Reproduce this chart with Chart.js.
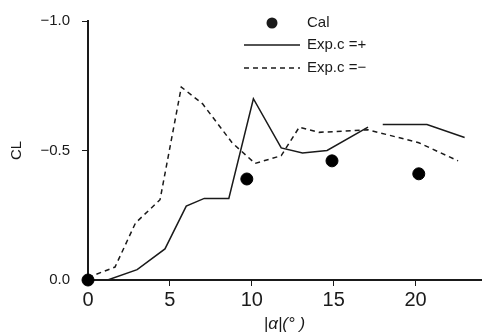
<!DOCTYPE html>
<html>
<head>
<meta charset="utf-8">
<script src="https://cdn.jsdelivr.net/npm/chart.js@4/dist/chart.umd.min.js"></script>
<style>
  html, body { margin: 0; padding: 0; background: #fff; }
  #wrap { width: 482px; height: 336px; }
</style>
</head>
<body>
<div id="wrap"><canvas id="cl-chart"></canvas></div>
<script>
// |alpha| (deg) vs CL
var calAlpha = [0, 9.7, 14.9, 20.2];
var calCL = [0, -0.39, -0.46, -0.41];

var plusAlpha = [1.2, 3.0, 4.7, 6.0, 7.1, 8.6, 10.1, 11.8, 13.1, 14.6, 17.1, 17.5, 18.0, 20.7, 23.0];
var plusCL = [0, -0.04, -0.12, -0.285, -0.315, -0.315, -0.70, -0.51, -0.49, -0.50, -0.59, null, -0.60, -0.60, -0.55];

var minusAlpha = [0, 1.65, 2.9, 4.4, 5.7, 7.0, 8.8, 10.2, 11.8, 12.9, 14.1, 17.1, 20.2, 22.6];
var minusCL = [-0.01, -0.05, -0.22, -0.31, -0.745, -0.68, -0.53, -0.45, -0.48, -0.59, -0.57, -0.58, -0.53, -0.46];

var xTicks = [0, 5, 10, 15, 20];
var yTicks = [-1.0, -0.5, 0.0];

function pts(xs, ys) {
  return xs.map(function (x, i) { return { x: x, y: ys[i] }; });
}

var ink = '#1a1a1a';
var fontFam = '"Liberation Sans", Arial, sans-serif';

// legend drawn as a small stacked box at the top, like the figure
var stackLegend = {
  id: 'stackLegend',
  afterDraw: function (chart) {
    var ctx = chart.ctx;
    var rows = [23, 45, 68];
    ctx.save();
    ctx.font = '15px ' + fontFam;
    ctx.textBaseline = 'middle';
    ctx.fillStyle = ink;
    ctx.strokeStyle = ink;
    chart.data.datasets.forEach(function (ds, i) {
      var y = rows[i];
      if (ds.showLine === false) {
        ctx.beginPath();
        ctx.arc(272, y, 5.5, 0, Math.PI * 2);
        ctx.fill();
      } else {
        ctx.lineWidth = 1.5;
        ctx.setLineDash(ds.borderDash || []);
        ctx.beginPath();
        ctx.moveTo(244, y);
        ctx.lineTo(300, y);
        ctx.stroke();
        ctx.setLineDash([]);
      }
      ctx.fillText(ds.label, 307, y);
    });
    ctx.restore();
  }
};

new Chart(document.getElementById('cl-chart'), {
  type: 'scatter',
  data: {
    datasets: [{
        label: 'Cal',
        data: pts(calAlpha, calCL),
        showLine: false,
        pointRadius: 6,
        pointBackgroundColor: '#000',
        pointBorderColor: '#000',
        clip: false
      }, {
        label: 'Exp.c =+',
        data: pts(plusAlpha, plusCL),
        showLine: true,
        spanGaps: false,
        borderColor: ink,
        borderWidth: 1.5,
        pointRadius: 0,
        fill: false,
        tension: 0
      }, {
        label: 'Exp.c =\u2212',
        data: pts(minusAlpha, minusCL),
        showLine: true,
        borderColor: ink,
        borderWidth: 1.5,
        borderDash: [5, 4],
        pointRadius: 0,
        fill: false,
        tension: 0
      }
    ]
  },
  options: {
    responsive: true,
    maintainAspectRatio: false,
    animation: false,
    layout: { autoPadding: false, padding: { top: 16, right: 1, left: 0, bottom: 0 } },
    plugins: {
      legend: { display: false },
      tooltip: { enabled: false }
    },
    scales: {
      x: {
        type: 'linear',
        min: 0,
        max: 24,
        afterBuildTicks: function (s) { s.ticks = xTicks.map(function (v) { return { value: v }; }); },
        afterFit: function (s) { s.height = 56; s.paddingRight = 0; s.paddingLeft = 0; },
        border: { display: true, color: ink, width: 2 },
        grid: { drawOnChartArea: false, drawTicks: true, tickLength: 6, color: ink },
        ticks: {
          color: ink,
          padding: 2,
          maxRotation: 0,
          font: { family: fontFam, size: 20 }
        },
        title: {
          display: true,
          text: '|\u03b1|(\u00b0 )',
          color: ink,
          font: { family: fontFam, size: 17, style: 'italic' },
          padding: { top: 0, bottom: 2 }
        }
      },
      y: {
        type: 'linear',
        reverse: true,
        min: -1,
        max: 0,
        afterBuildTicks: function (s) { s.ticks = yTicks.map(function (v) { return { value: v }; }); },
        afterFit: function (s) { s.width = 88; },
        border: { display: true, color: ink, width: 2 },
        grid: { drawOnChartArea: false, drawTicks: true, tickLength: 6, color: ink },
        ticks: {
          color: ink,
          padding: 12,
          font: { family: fontFam, size: 15 },
          callback: function (v) { return v.toFixed(1).replace('-', '\u2212'); }
        },
        title: {
          display: true,
          text: 'CL',
          color: ink,
          font: { family: fontFam, size: 15 },
          padding: { top: 8, bottom: 0 }
        }
      }
    }
  },
  plugins: [stackLegend]
});
</script>
</body>
</html>
